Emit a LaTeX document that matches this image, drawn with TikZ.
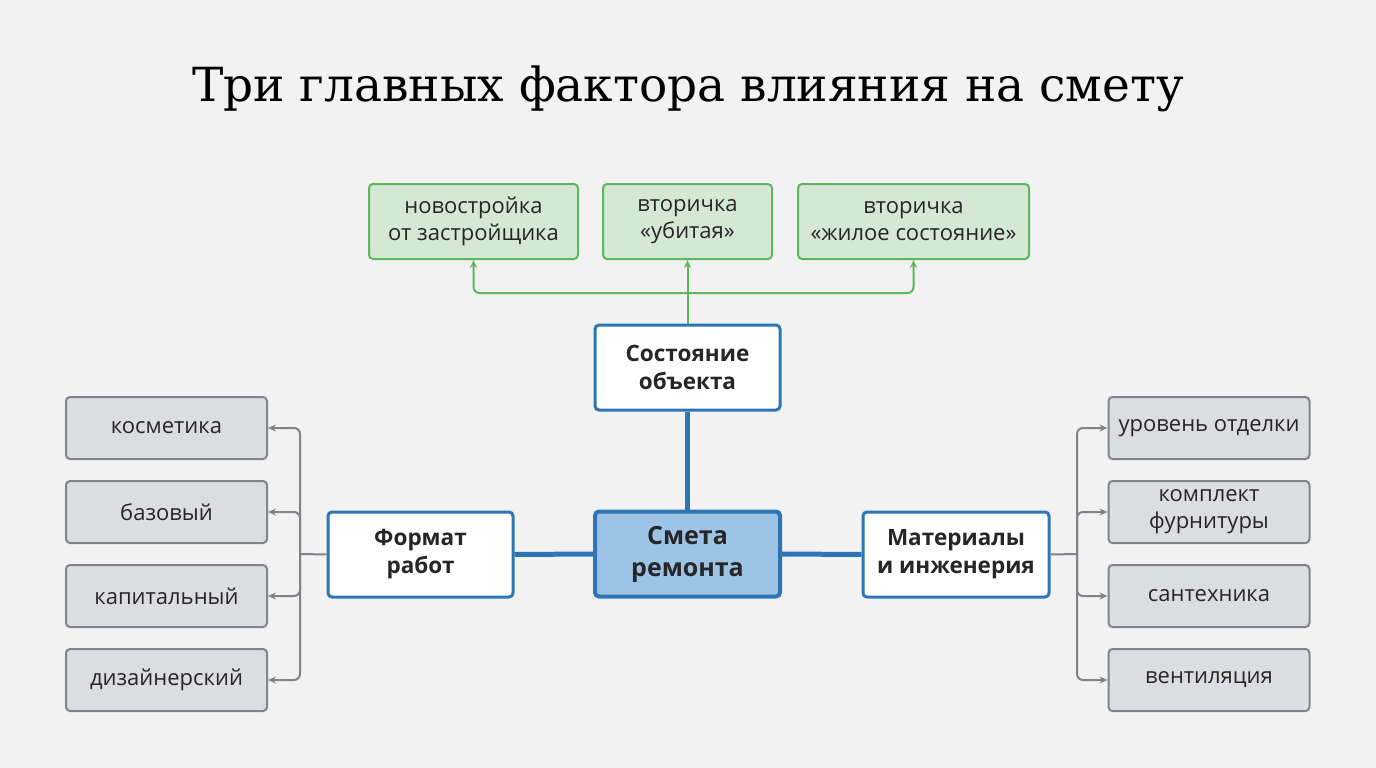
\documentclass[tikz,border=0pt]{standalone}
\usepackage{fontspec}
\setmainfont{Open Sans}
\newfontfamily\titlefont{DejaVu Serif}
\usetikzlibrary{arrows.meta}
\definecolor{bg}{HTML}{F2F2F2}
\definecolor{blu}{HTML}{2E75B6}
\definecolor{bluf}{HTML}{9DC3E6}
\definecolor{grn}{HTML}{5CB85C}
\definecolor{grnf}{HTML}{D5E8D4}
\definecolor{gry}{HTML}{80848A}
\definecolor{gryf}{HTML}{DCDDE0}
\begin{document}
\begin{tikzpicture}[x=1pt,y=-1pt,
  box/.style={draw, rounded corners=4pt, align=center, inner sep=0pt, font=\fontsize{22}{27}\selectfont, text=black!85},
  main/.style={box, draw=blu, line width=3pt, fill=white, minimum width=185pt, minimum height=85pt, font=\fontsize{22.5}{28}\selectfont\bfseries},
  ctr/.style={main, line width=4pt, fill=bluf, font=\fontsize{25}{32}\selectfont\bfseries},
  gbox/.style={box, draw=grn, line width=2pt, fill=grnf, minimum height=75pt},
  sbox/.style={box, draw=gry, line width=2pt, fill=gryf, minimum width=201pt, minimum height=62pt},
  blink/.style={draw=blu, line width=5pt},
  glink/.style={draw=grn, line width=2pt, rounded corners=6pt, -{Stealth[length=8pt,width=7pt]}},
  slink/.style={draw=gry, line width=2pt, rounded corners=6pt, -{Stealth[length=8pt,width=7pt]}}]
\fill[bg] (0,0) rectangle (1376,768);
\useasboundingbox (0,0) rectangle (1376,768);
\node[font=\titlefont\fontsize{47}{56}\selectfont] (title) at (688,89) {Три главных фактора влияния на смету};
\node[ctr] (c) at (687.5,554) {Смета\\ремонта};
\node[main] (s) at (687.5,367.5) {Состояние\\объекта};
\node[main] (f) at (420.5,554.5) {Формат\\работ};
\node[main, minimum width=186pt] (m) at (956,554.5) {Материалы\\и инженерия};
\node[gbox, minimum width=209pt] (g1) at (473.5,221.5) {новостройка\\от застройщика};
\node[gbox, minimum width=169pt] (g2) at (687.5,221.5) {вторичка\\«убитая»};
\node[gbox, minimum width=231pt] (g3) at (913.5,221.5) {вторичка\\«жилое состояние»};
\foreach \n/\y/\t in {l1/428/косметика, l2/512/базовый, l3/596/капитальный, l4/680/дизайнерский}
  \node[sbox] (\n) at (166.5,\y) {\t};
\foreach \n/\y/\t in {r1/428/уровень отделки, r2/512/{комплект\\фурнитуры}, r3/596/сантехника, r4/680/вентиляция}
  \node[sbox] (\n) at (1209,\y) {\t};
\draw[blink] (s.south) -- (c.north);
\draw[blink] (f.east) -- (c.west);
\draw[blink] (c.east) -- (m.west);
\coordinate (gj) at (687.5,293);
\draw[draw=grn, line width=2pt] (s.north) -- (gj);
\draw[glink] (gj) -| (g1.south);
\draw[glink] (gj) -- (g2.south);
\draw[glink] (gj) -| (g3.south);
\coordinate (lj) at (300,554);
\coordinate (rj) at (1077,554);
\draw[draw=gry, line width=2pt] (f.west) -- (lj);
\draw[draw=gry, line width=2pt] (m.east) -- (rj);
\foreach \n in {l1,l2,l3,l4} \draw[slink] (lj) |- (\n.east);
\foreach \n in {r1,r2,r3,r4} \draw[slink] (rj) |- (\n.west);
\end{tikzpicture}
\end{document}
